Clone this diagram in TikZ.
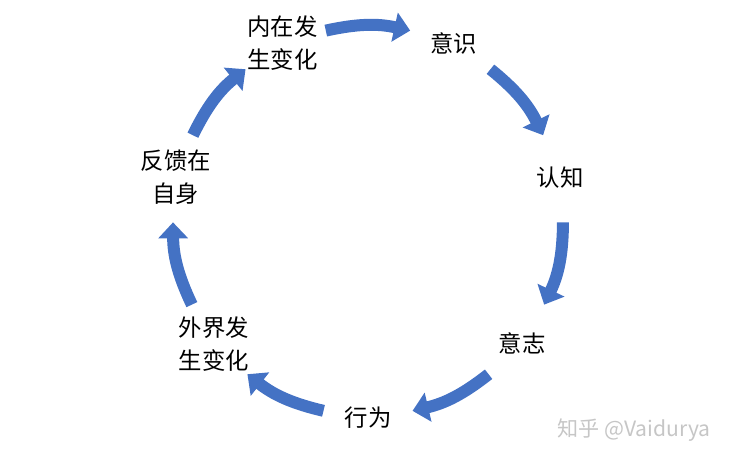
\documentclass[tikz,border=0pt]{standalone}
\usepackage{fontspec}
\setmainfont{Noto Sans CJK SC}
\usepackage{tikz}
\usetikzlibrary{arrows.meta, calc}
\definecolor{cycleblue}{HTML}{4472C4}

\begin{document}
\begin{tikzpicture}[
    stage/.style={font=\fontsize{13.3pt}{18.7pt}\selectfont, align=center, inner sep=0pt},
    flow/.style={cycleblue, line width=0.24cm,
                 -{Triangle[width=0.58cm, length=0.32cm]}},
    wmtext/.style={font=\fontsize{12pt}{14pt}\selectfont, text=gray!45, inner sep=0pt}
]

\useasboundingbox (0,0) rectangle (14.72,9.24);
\coordinate (c) at (7.36,4.82);

%% --- Stages of the cycle ---
\node[stage] (xingwei) at ($(c)+(-90:3.94)$)      {行为};
\node[stage] (yizhi)   at ($(c)+(-38.57:3.94)$)   {意志};
\node[stage] (renzhi)  at ($(c)+(12.86:3.94)$)    {认知};
\node[stage] (yishi)   at ($(c)+(64.29:3.94)$)    {意识};
\node[stage] (neizai)  at ($(c)+(115.71:3.94)$)   {内在发\\生变化};
\node[stage] (fankui)  at ($(c)+(167.14:3.94)$)   {反馈在\\自身};
\node[stage] (waijie)  at ($(c)+(218.57:3.94)$)   {外界发\\生变化};

%% --- Arrow ends on the circle ---
\coordinate (a1s) at ($(c)+(102.5:3.9)$);  \coordinate (a1e) at ($(c)+(77.5:3.9)$);
\coordinate (a2s) at ($(c)+(51.1:3.9)$);   \coordinate (a2e) at ($(c)+(26.1:3.9)$);
\coordinate (a3s) at ($(c)+(-0.4:3.9)$);   \coordinate (a3e) at ($(c)+(-25.4:3.9)$);
\coordinate (a4s) at ($(c)+(-51.8:3.9)$);  \coordinate (a4e) at ($(c)+(-76.8:3.9)$);
\coordinate (a5s) at ($(c)+(-103.2:3.9)$); \coordinate (a5e) at ($(c)+(-128.2:3.9)$);
\coordinate (a6s) at ($(c)+(-154.6:3.9)$); \coordinate (a6e) at ($(c)+(-179.6:3.9)$);
\coordinate (a7s) at ($(c)+(153.9:3.9)$);  \coordinate (a7e) at ($(c)+(128.9:3.9)$);

%% --- Curved arrows ---
\draw[flow] (a1s) to[bend left=12.5] (a1e);
\draw[flow] (a2s) to[bend left=12.5] (a2e);
\draw[flow] (a3s) to[bend left=12.5] (a3e);
\draw[flow] (a4s) to[bend left=12.5] (a4e);
\draw[flow] (a5s) to[bend left=12.5] (a5e);
\draw[flow] (a6s) to[bend left=12.5] (a6e);
\draw[flow] (a7s) to[bend left=12.5] (a7e);

%% --- Watermark ---
\node[wmtext] (wm) at (12.68,0.64) {知乎 @Vaidurya};

\end{tikzpicture}
\end{document}
